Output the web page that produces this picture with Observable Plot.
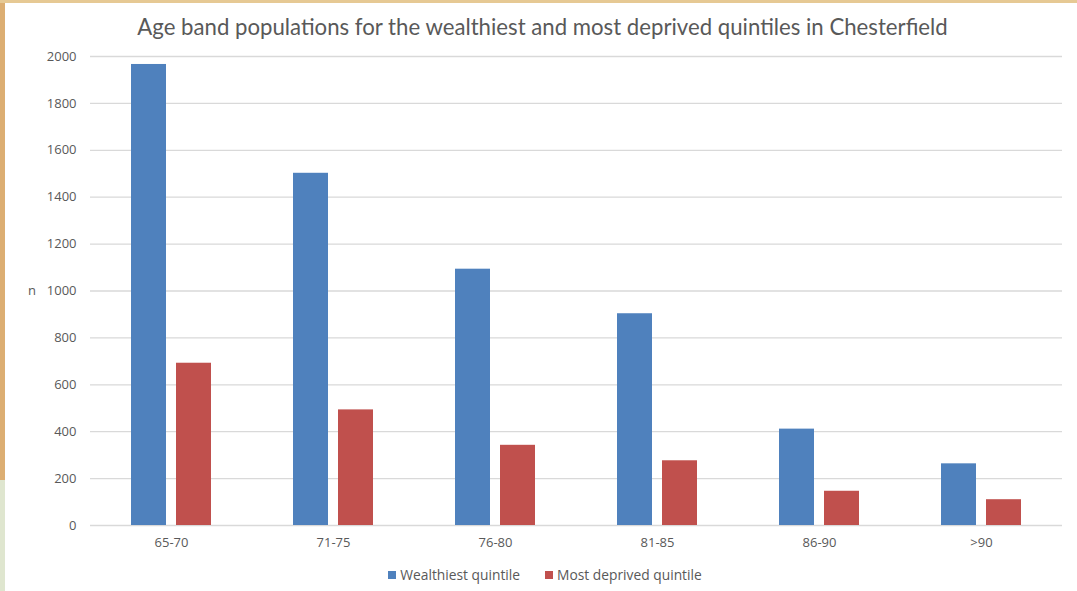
<!DOCTYPE html>
<html>
<head>
<meta charset="utf-8">
<script src="https://cdn.jsdelivr.net/npm/d3@7"></script>
<script src="https://cdn.jsdelivr.net/npm/@observablehq/plot@0.6"></script>
<style>
  html, body { margin: 0; padding: 0; background: #ffffff; }
  #wrap { position: relative; width: 1077px; height: 591px; background: #ffffff; overflow: hidden; }
  #title { box-sizing: border-box; height: 42px; padding-top: 14px; line-height: 26px; text-align: center;
           font-family: Lato, "Open Sans", sans-serif; font-weight: 400; font-size: 22.2px; color: #595959; padding-left: 8px; white-space: nowrap; }
  #ylabel { position: absolute; left: 28px; top: 281px; font-family: "Open Sans", sans-serif; font-size: 13px; color: #595959; }
  #legend { box-sizing: border-box; height: 33px; padding-top: 0px; line-height: 20px; display: flex; justify-content: center;
            gap: 25px; font-family: "Open Sans", sans-serif; font-size: 13.8px; color: #595959; padding-left: 13px; }
  .item { display: flex; align-items: center; gap: 4px; }
  .sw { width: 8px; height: 8px; display: inline-block; }
  .stripL { position: absolute; left: 0; top: 0; width: 5px; height: 480px; background: #dcae72; }
  .stripL2 { position: absolute; left: 0; top: 480px; width: 5px; height: 111px; background: #dfe6cf; }
  .stripT { position: absolute; left: 0; top: 0; width: 1077px; height: 3px; background: #e6c994; }
</style>
</head>
<body>
<div id="wrap">
  <div id="title"></div>
  <div id="chart"></div>
  <div id="legend"></div>
  <div id="ylabel">n</div>
  <div class="stripL"></div>
  <div class="stripL2"></div>
  <div class="stripT"></div>
</div>
<script>
const titleText = "Age band populations for the wealthiest and most deprived quintiles in Chesterfield";
const categories = ["65-70", "71-75", "76-80", "81-85", "86-90", ">90"];
const wealthiest = [1966, 1502, 1093, 903, 411, 263];
const deprived = [692, 493, 342, 276, 146, 110];
const seriesNames = ["Wealthiest quintile", "Most deprived quintile"];
const seriesColors = ["#4f81bd", "#c0504d"];
const yTicks = [0, 200, 400, 600, 800, 1000, 1200, 1400, 1600, 1800, 2000];

const data = categories.flatMap((c, i) => [
  {cat: c, series: seriesNames[0], value: wealthiest[i]},
  {cat: c, series: seriesNames[1], value: deprived[i]}
]);

document.getElementById("title").textContent = titleText;

const chart = Plot.plot({
  width: 1077,
  height: 516,
  marginLeft: 90,
  marginRight: 15,
  marginTop: 14,
  marginBottom: 33,
  style: {fontFamily: "'Open Sans', sans-serif", fontSize: "13px", color: "#595959", background: "#ffffff", overflow: "visible"},
  fx: {domain: categories, padding: 0, label: null, tickSize: 0, tickPadding: 12},
  x: {domain: seriesNames, paddingInner: 0.217, paddingOuter: 0.87, axis: null},
  y: {domain: [0, 2000], ticks: yTicks, tickSize: 0, tickPadding: 14, label: null, tickFormat: d => String(d)},
  color: {domain: seriesNames, range: seriesColors},
  marks: [
    Plot.ruleY(yTicks, {stroke: "#d9d9d9", strokeWidth: 1.3}),
    Plot.barY(data, {fx: "cat", x: "series", y: "value", fill: "series"})
  ]
});
document.getElementById("chart").appendChild(chart);

const legend = document.getElementById("legend");
seriesNames.forEach((name, i) => {
  const item = document.createElement("div");
  item.className = "item";
  const sw = document.createElement("span");
  sw.className = "sw";
  sw.style.background = seriesColors[i];
  const t = document.createElement("span");
  t.textContent = name;
  item.appendChild(sw);
  item.appendChild(t);
  legend.appendChild(item);
});
</script>
</body>
</html>
